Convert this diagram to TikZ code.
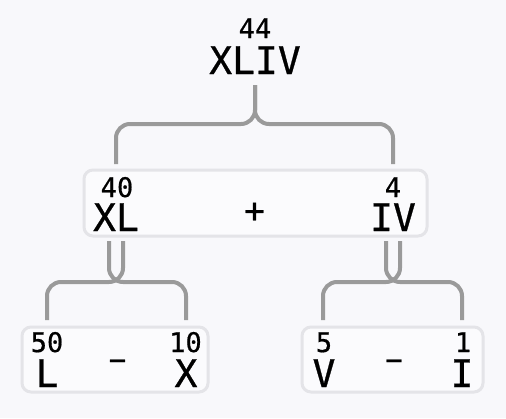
\documentclass[tikz,border=0pt]{standalone}
\usepackage{fontspec}
\setmainfont{DejaVu Sans Mono}[FakeBold=0.7]
\definecolor{bg}{HTML}{F8F8FB}
\definecolor{boxfill}{HTML}{FBFBFD}
\definecolor{boxline}{HTML}{E4E4E8}
\definecolor{conn}{HTML}{9A9A9A}
\begin{document}
\begin{tikzpicture}[x=1pt,y=-1pt,
  box/.style={draw=boxline, fill=boxfill, line width=3pt, rounded corners=9pt, inner sep=0pt},
  big/.style={font=\fontsize{38}{38}\selectfont, anchor=base, inner sep=0pt},
  num/.style={font=\fontsize{27}{27}\selectfont, anchor=base, inner sep=0pt},
  opsym/.style={font=\fontsize{34}{34}\selectfont, inner sep=0pt},
  minsym/.style={font=\fontsize{29}{29}\selectfont, anchor=base, inner sep=0pt},
  conn/.style={draw=conn, line width=4pt, rounded corners=14pt}]
\fill[bg] (0,0) rectangle (506,418);
\useasboundingbox (0,0) rectangle (506,418);
% boxes
\node[box, minimum width=343pt, minimum height=66pt] (mbox) at (255.5,203) {};
\node[box, minimum width=186pt, minimum height=65pt] (lbox) at (115,359.5) {};
\node[box, minimum width=181pt, minimum height=65pt] (rbox) at (392.5,359.5) {};
% top
\node[num] (n44) at (255,38) {44};
\node[big] (tXLIV) at (255,74) {XLIV};
% middle
\node[num] (n40) at (117,197) {40};
\node[big] (mXL) at (116,231) {XL};
\node[opsym] (plus) at (254.5,212.5) {+};
\node[num] (n4) at (393,197) {4};
\node[big] (mIV) at (393,231) {IV};
% lower left
\node[num] (n50) at (47,352) {50};
\node[big] (lL) at (47,387) {L};
\node[minsym] (minusA) at (117.5,370) {−};
\node[num] (n10) at (185.5,352) {10};
\node[big] (lX) at (186,387) {X};
% lower right
\node[num] (n5) at (324,352) {5};
\node[big] (rV) at (324,387) {V};
\node[minsym] (minusB) at (394,370) {−};
\node[num] (n1) at (463,352) {1};
\node[big] (rI) at (462,387) {I};
% connector end points
\coordinate (t0) at (255,85);
\coordinate (tj) at (255,124);
\coordinate (tl) at (116,124);
\coordinate (tr) at (393,124);
\coordinate (tle) at (116,164);
\coordinate (tre) at (393,164);
\coordinate (a1) at (109,241);
\coordinate (a2) at (123,241);
\coordinate (a1c) at (109,282);
\coordinate (a2c) at (123,282);
\coordinate (al) at (47,282);
\coordinate (ar) at (186,282);
\coordinate (ale) at (47,320);
\coordinate (are) at (186,320);
\coordinate (b1) at (386,241);
\coordinate (b2) at (400,241);
\coordinate (b1c) at (386,282);
\coordinate (b2c) at (400,282);
\coordinate (bl) at (323,282);
\coordinate (br) at (462,282);
\coordinate (ble) at (323,320);
\coordinate (bre) at (462,320);
% connectors
\draw[conn] (t0) -- (tj) -- (tl) -- (tle);
\draw[conn] (t0) -- (tj) -- (tr) -- (tre);
\draw[conn] (a1) -- (a1c) -- (ar) -- (are);
\draw[conn] (a2) -- (a2c) -- (al) -- (ale);
\draw[conn] (b1) -- (b1c) -- (br) -- (bre);
\draw[conn] (b2) -- (b2c) -- (bl) -- (ble);
\end{tikzpicture}
\end{document}
